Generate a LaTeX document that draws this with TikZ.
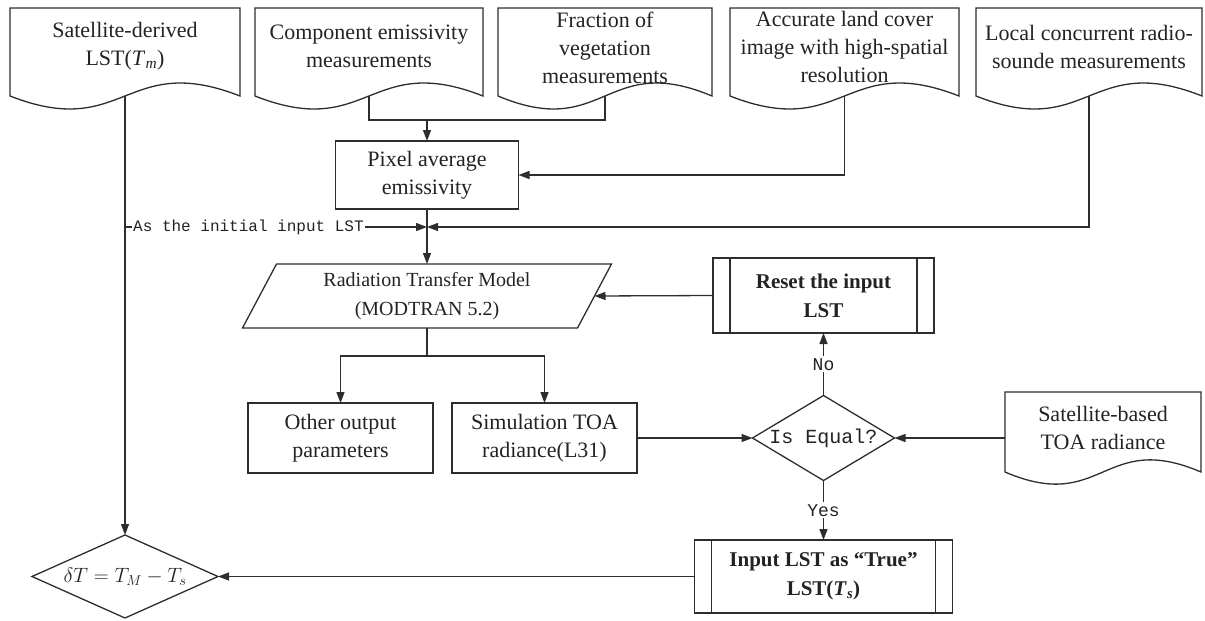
\documentclass[tikz,border=0pt]{standalone}
\usepackage{fontspec}
\setmainfont{Liberation Serif}
\newfontfamily\monof{Liberation Mono}
\usetikzlibrary{arrows.meta,calc,shapes.geometric}
\definecolor{linec}{RGB}{45,45,45}
\definecolor{textc}{RGB}{35,35,35}
\newcommand\docoutline[2]{%
  \draw[linest] (#1.south west) -- (#1.north west) -- (#1.north east) -- (#1.south east)
    .. controls ($(#1.south)+(0,-#2)$) and ($(#1.south)+(0,#2)$) .. (#1.south west) -- cycle;}
\newcommand\subbars[1]{%
  \draw[linest] ($(#1.north west)+(17,0)$) -- ($(#1.south west)+(17,0)$);
  \draw[linest] ($(#1.north east)+(-17,0)$) -- ($(#1.south east)+(-17,0)$);}
\tikzset{
  linest/.style={draw=linec, line width=1.3pt},
  arr/.style={linest, -{Triangle[length=11pt,width=8pt]}},
  shapebox/.style={inner sep=0pt, outer sep=0pt, rectangle},
  boxst/.style={linest, inner sep=0pt, outer sep=0pt, rectangle, align=center, text=textc,
                font=\fontsize{22}{28}\selectfont},
  txt/.style={inner sep=0pt, align=center, text=textc, font=\fontsize{22}{28}\selectfont},
  yesno/.style={fill=white, inner sep=2pt, text=textc, font=\monof\fontsize{18}{20}\selectfont},
}
\begin{document}
\begin{tikzpicture}[x=1pt,y=-1pt]
\useasboundingbox (0,0) rectangle (1205,621);
% top documents
\node[shapebox, minimum width=230, minimum height=88] (doc1) at (125,52) {};
\node[shapebox, minimum width=228, minimum height=88] (doc2) at (369,52) {};
\node[shapebox, minimum width=214, minimum height=88] (doc3) at (605,52) {};
\node[shapebox, minimum width=229, minimum height=88] (doc4) at (844.5,52) {};
\node[shapebox, minimum width=226, minimum height=88] (doc5) at (1089,52) {};
\docoutline{doc1}{45}
\docoutline{doc2}{45}
\docoutline{doc3}{45}
\docoutline{doc4}{45}
\docoutline{doc5}{45}
\node[txt] (doc1t) at (125,46.5) {Satellite-derived\\LST(\textit{T}\textsubscript{\textit{m}})};
\node[txt] (doc2t) at (369,46.5) {Component emissivity\\measurements};
\node[txt] (doc3t) at (605,47.5) {Fraction of\\vegetation\\measurements};
\node[txt] (doc4t) at (844.5,47) {Accurate land cover\\image with high-spatial\\resolution};
\node[txt] (doc5t) at (1089,47) {Local concurrent radio-\\sounde measurements};
% satellite-based doc
\node[shapebox, minimum width=196, minimum height=80] (satdoc) at (1103,432) {};
\docoutline{satdoc}{42}
\node[txt] (satdoct) at (1103,427.5) {Satellite-based\\TOA radiance};
% pixel average box
\node[boxst, minimum width=183, minimum height=68] (pix) at (427,175) {Pixel average\\emissivity};
% radiation transfer model
\node[shapebox, minimum width=335, minimum height=64, align=center, text=textc,
      font=\fontsize{20}{29}\selectfont] (rtm) at (427,296) {Radiation Transfer Model\\(MODTRAN 5.2)};
\draw[linest] ($(rtm.north west)+(17,0)$) -- ($(rtm.north east)+(17,0)$)
  -- ($(rtm.south east)+(-17,0)$) -- ($(rtm.south west)+(-17,0)$) -- cycle;
% output boxes
\node[boxst, minimum width=185, minimum height=70] (other) at (340.5,438) {Other output\\parameters};
\node[boxst, minimum width=185, minimum height=70] (sim) at (544.5,438) {Simulation TOA\\radiance(L31)};
% decision
\node[diamond, linest, inner sep=0pt, outer sep=0pt, minimum width=142, minimum height=85] (eq) at (823.5,438) {};
\node[inner sep=0pt, text=textc, font=\monof\fontsize{20}{22}\selectfont] (eqt) at (823.5,438) {Is Equal?};
% reset and input boxes
\node[boxst, minimum width=221, minimum height=75, font=\bfseries\fontsize{21}{29}\selectfont] (reset) at (823.5,295.5) {Reset the input\\LST};
\subbars{reset}
\node[boxst, minimum width=258, minimum height=73, font=\bfseries\fontsize{21}{29}\selectfont] (input) at (823.5,576.5) {Input LST as “True”\\LST(\textit{T}\textsubscript{\textit{s}})};
\subbars{input}
% delta T diamond
\node[diamond, linest, inner sep=0pt, outer sep=0pt, minimum width=186, minimum height=83] (ldiam) at (125,576.5) {};
\node[inner sep=0pt, text=textc, font=\fontsize{22}{24}\selectfont] (ldiamt) at (125,576.5) {$\delta T = T_M - T_s$};
% connectors
\coordinate (j0) at (427,120);
\coordinate (j1) at (605,120);
\coordinate (j2) at (427,227);
\coordinate (j3) at (427,356);
\draw[arr] (doc1.south) -- (ldiam.north);
\draw[linest] (doc2.south) |- (j1) -- (doc3.south);
\draw[arr] (j0) -- (pix.north);
\draw[arr] (doc4.south) |- (pix.east);
\node[inner sep=1pt, anchor=west, text=textc, font=\monof\fontsize{16}{18}\selectfont] (aslbl) at (132,227) {As the initial input LST};
\draw[linest] (doc1.south |- aslbl.west) -- (aslbl.west);
\draw[arr] (aslbl.east) -- (j2);
\draw[arr] (doc5.south) |- (j2);
\draw[arr] (pix.south) -- (rtm.north);
\draw[linest] (rtm.south) -- (j3);
\draw[arr] (j3) -| (other.north);
\draw[arr] (j3) -| (sim.north);
\draw[arr] (sim.east) -- (eq.west);
\draw[arr] (satdoc.west |- eq.east) -- (eq.east);
\draw[arr] (eq.north) -- node[yesno] (nolbl) {No} (reset.south);
\draw[arr] (eq.south) -- node[yesno] (yeslbl) {Yes} (input.north);
\draw[arr] (input.west) -- (ldiam.east);
\draw[arr] (reset.west) -- (rtm.east);
\end{tikzpicture}
\end{document}
